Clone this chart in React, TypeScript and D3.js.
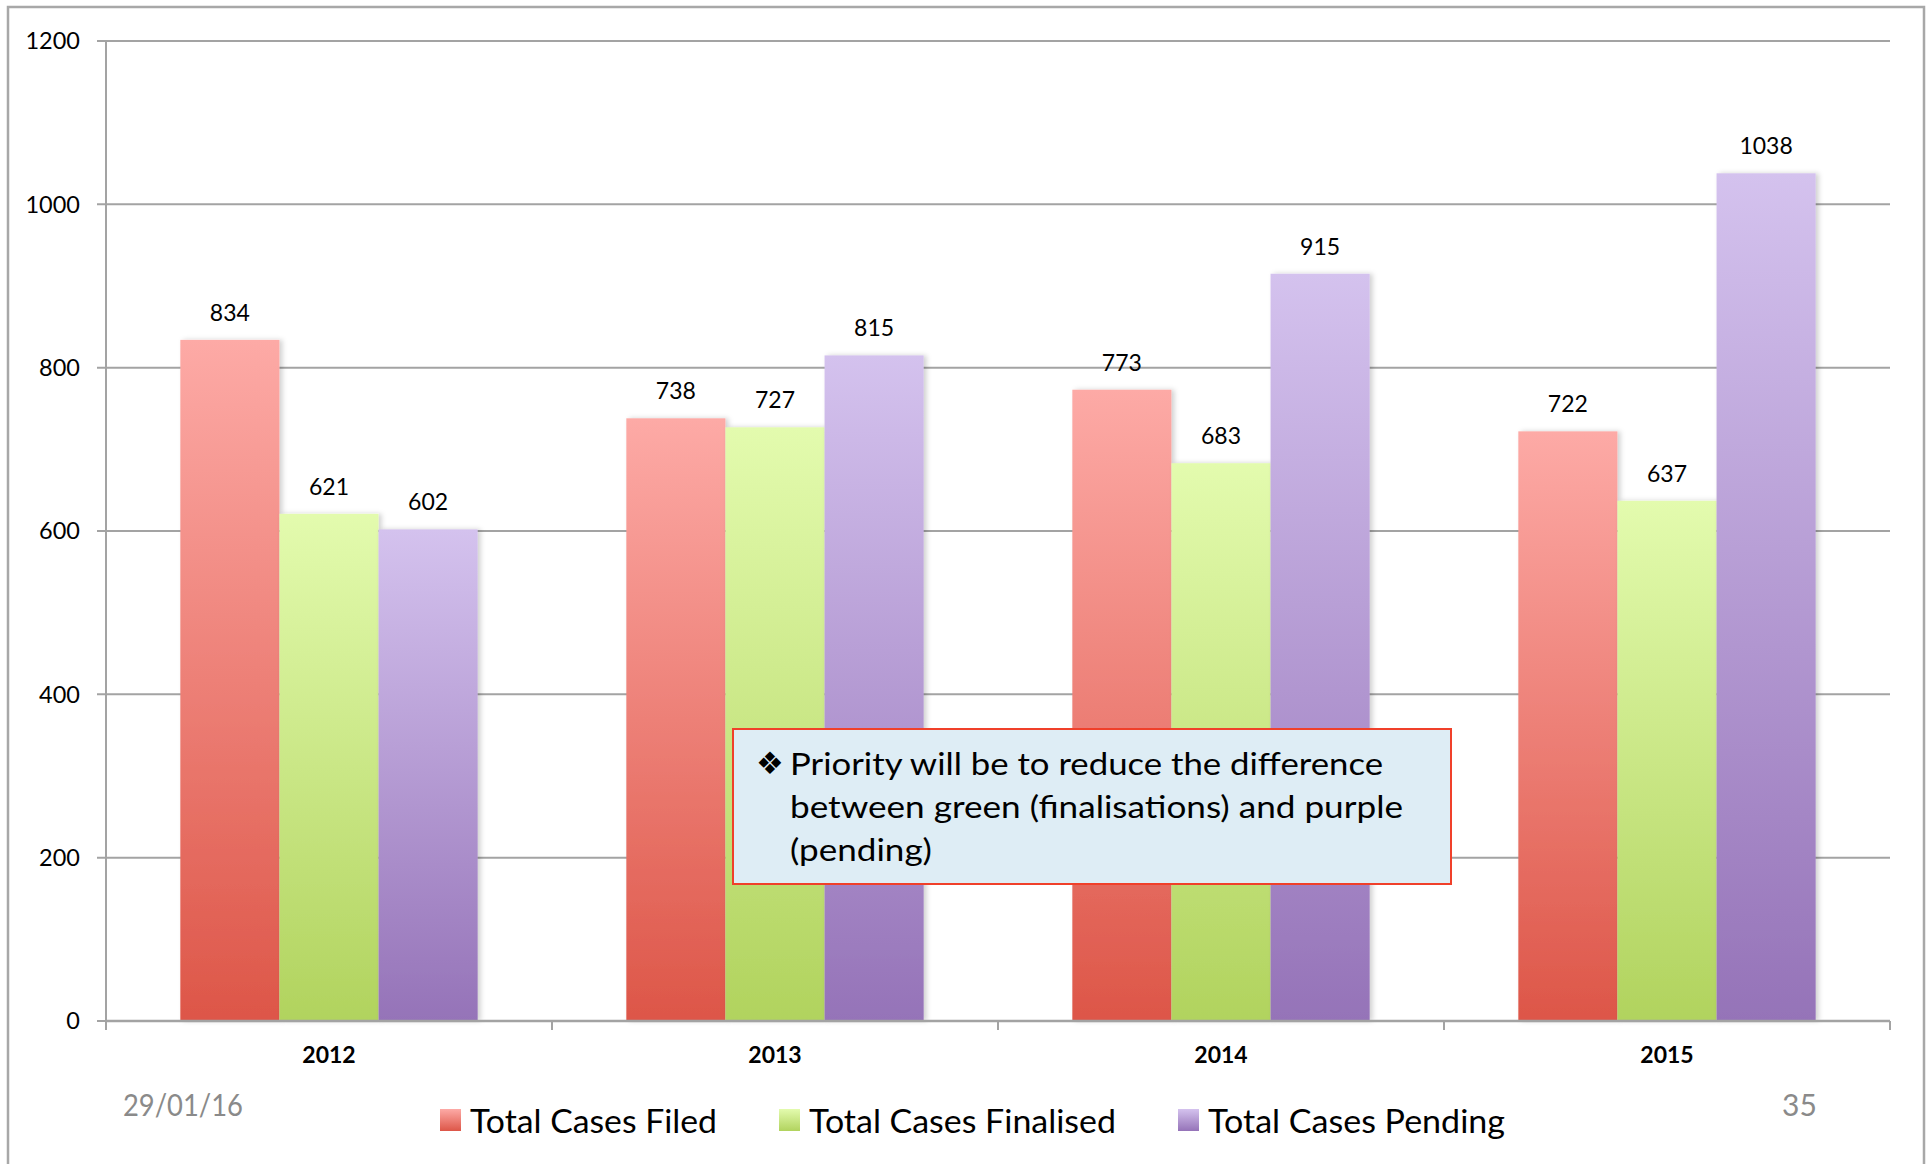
import React from 'react';
import * as d3 from 'd3';

const years = ['2012', '2013', '2014', '2015'];
const seriesNames = ['Total Cases Filed', 'Total Cases Finalised', 'Total Cases Pending'];
const filed = [834, 738, 773, 722];
const finalised = [621, 727, 683, 637];
const pending = [602, 815, 915, 1038];
const yTicks = [0, 200, 400, 600, 800, 1000, 1200];
const calloutLines = [
  'Priority will be to reduce the difference',
  'between green (finalisations) and purple',
  '(pending)',
];
const footerDate = '29/01/16';
const pageNumber = '35';

const W = 1930;
const H = 1164;
const plotLeft = 106;
const plotRight = 1890;
const yZeroPx = 1021;
const yTopPx = 41;
const FONT = 'Lato, "Open Sans", sans-serif';

const gradients = [
  { id: 'gRed', top: '#fdaaa6', bottom: '#dd5648' },
  { id: 'gGreen', top: '#e3fbae', bottom: '#b1d35e' },
  { id: 'gPurple', top: '#d4c2ee', bottom: '#9573b8' },
];

const legendLayout = [
  { sx: 440, tx: 470, tw: 247 },
  { sx: 779, tx: 809, tw: 307 },
  { sx: 1178, tx: 1208, tw: 297 },
];
const calloutWidths = [593, 613, 142];

export default function App() {
  const values = [filed, finalised, pending];
  const x0 = d3.scaleBand<string>().domain(years).range([plotLeft, plotRight]).padding(0);
  const bw = x0.bandwidth();
  const x1 = d3
    .scaleBand<string>()
    .domain(seriesNames)
    .range([(bw * 0.75) / 4.5, (bw * 3.75) / 4.5])
    .padding(0);
  const y = d3.scaleLinear().domain([0, 1200]).range([yZeroPx, yTopPx]);
  const gridColor = '#a3a3a3';
  const xTickPositions = [...years.map((yr) => x0(yr) as number), plotRight];

  return (
    <svg
      width={W}
      height={H}
      viewBox={`0 0 ${W} ${H}`}
      style={{ position: 'absolute', left: 0, top: 0, background: '#fff' }}
    >
      <defs>
        {gradients.map((g) => (
          <linearGradient key={g.id} id={g.id} x1="0" y1="0" x2="0" y2="1">
            <stop offset="0%" stopColor={g.top} />
            <stop offset="100%" stopColor={g.bottom} />
          </linearGradient>
        ))}
        <filter id="shadow" x="-10%" y="-5%" width="130%" height="110%">
          <feDropShadow dx="3" dy="0" stdDeviation="2.5" floodColor="#000" floodOpacity="0.18" />
        </filter>
      </defs>
      <rect x={0} y={0} width={W} height={H} fill="#fff" />
      {/* outer frame */}
      <path d={`M8,${H + 5} L8,7 L1924,7 L1924,${H + 5}`} fill="none" stroke="#a8a8a8" strokeWidth={2.5} />

      {/* gridlines */}
      {yTicks.map((t) => (
        <line key={'g' + t} x1={plotLeft - 9} x2={plotRight} y1={y(t)} y2={y(t)} stroke={gridColor} strokeWidth={2} />
      ))}
      {/* y axis */}
      <line x1={plotLeft} x2={plotLeft} y1={yTopPx} y2={yZeroPx} stroke={gridColor} strokeWidth={2} />
      {yTicks.map((t) => (
        <text
          key={'yl' + t}
          x={80}
          y={y(t)}
          dy="0.36em"
          textAnchor="end"
          fontFamily={FONT}
          fontSize={23.5}
          fill="#000"
        >
          {t}
        </text>
      ))}

      {/* bars */}
      {years.map((yr, i) => (
        <g key={yr} transform={`translate(${x0(yr)},0)`}>
          {seriesNames.map((s, j) => {
            const v = values[j][i];
            return (
              <rect
                key={s}
                x={x1(s)}
                y={y(v)}
                width={x1.bandwidth()}
                height={yZeroPx - y(v)}
                fill={`url(#${gradients[j].id})`}
                filter="url(#shadow)"
              />
            );
          })}
          {seriesNames.map((s, j) => {
            const v = values[j][i];
            return (
              <text
                key={'l' + s}
                x={(x1(s) as number) + x1.bandwidth() / 2}
                y={y(v) - 19}
                textAnchor="middle"
                fontFamily={FONT}
                fontSize={23}
                fill="#000"
              >
                {v}
              </text>
            );
          })}
        </g>
      ))}

      {/* x axis */}
      <line x1={plotLeft} x2={plotRight} y1={yZeroPx} y2={yZeroPx} stroke={gridColor} strokeWidth={2.5} />
      {xTickPositions.map((px, i) => (
        <line key={'xt' + i} x1={px} x2={px} y1={yZeroPx} y2={yZeroPx + 9} stroke={gridColor} strokeWidth={2} />
      ))}
      {years.map((yr) => (
        <text
          key={'xl' + yr}
          x={(x0(yr) as number) + bw / 2}
          y={1063}
          textAnchor="middle"
          fontFamily={FONT}
          fontWeight="bold"
          fontSize={23}
          fill="#000"
        >
          {yr}
        </text>
      ))}

      {/* callout */}
      <rect x={733} y={729} width={718} height={155} fill="#deedf5" stroke="#f0402a" strokeWidth={2} />
      <text x={756} y={774} fontFamily='"DejaVu Sans", sans-serif' fontSize={31} fill="#000">
        ❖
      </text>
      {calloutLines.map((line, i) => (
        <text
          key={'c' + i}
          x={790}
          y={775 + i * 43}
          fontFamily={FONT}
          fontSize={30}
          fill="#000"
          textLength={calloutWidths[i]}
          lengthAdjust="spacingAndGlyphs"
        >
          {line}
        </text>
      ))}

      {/* footer */}
      <text x={123} y={1116} fontFamily={FONT} fontSize={30} fill="#8a8a8a" textLength={120} lengthAdjust="spacingAndGlyphs">
        {footerDate}
      </text>
      <text x={1782} y={1116} fontFamily={FONT} fontSize={30} fill="#8a8a8a">
        {pageNumber}
      </text>

      {/* legend */}
      {seriesNames.map((s, j) => (
        <g key={'lg' + s}>
          <rect x={legendLayout[j].sx} y={1109} width={21} height={22} fill={`url(#${gradients[j].id})`} />
          <text
            x={legendLayout[j].tx}
            y={1133}
            fontFamily={FONT}
            fontSize={32}
            fill="#000"
            textLength={legendLayout[j].tw}
            lengthAdjust="spacingAndGlyphs"
          >
            {s}
          </text>
        </g>
      ))}
    </svg>
  );
}
